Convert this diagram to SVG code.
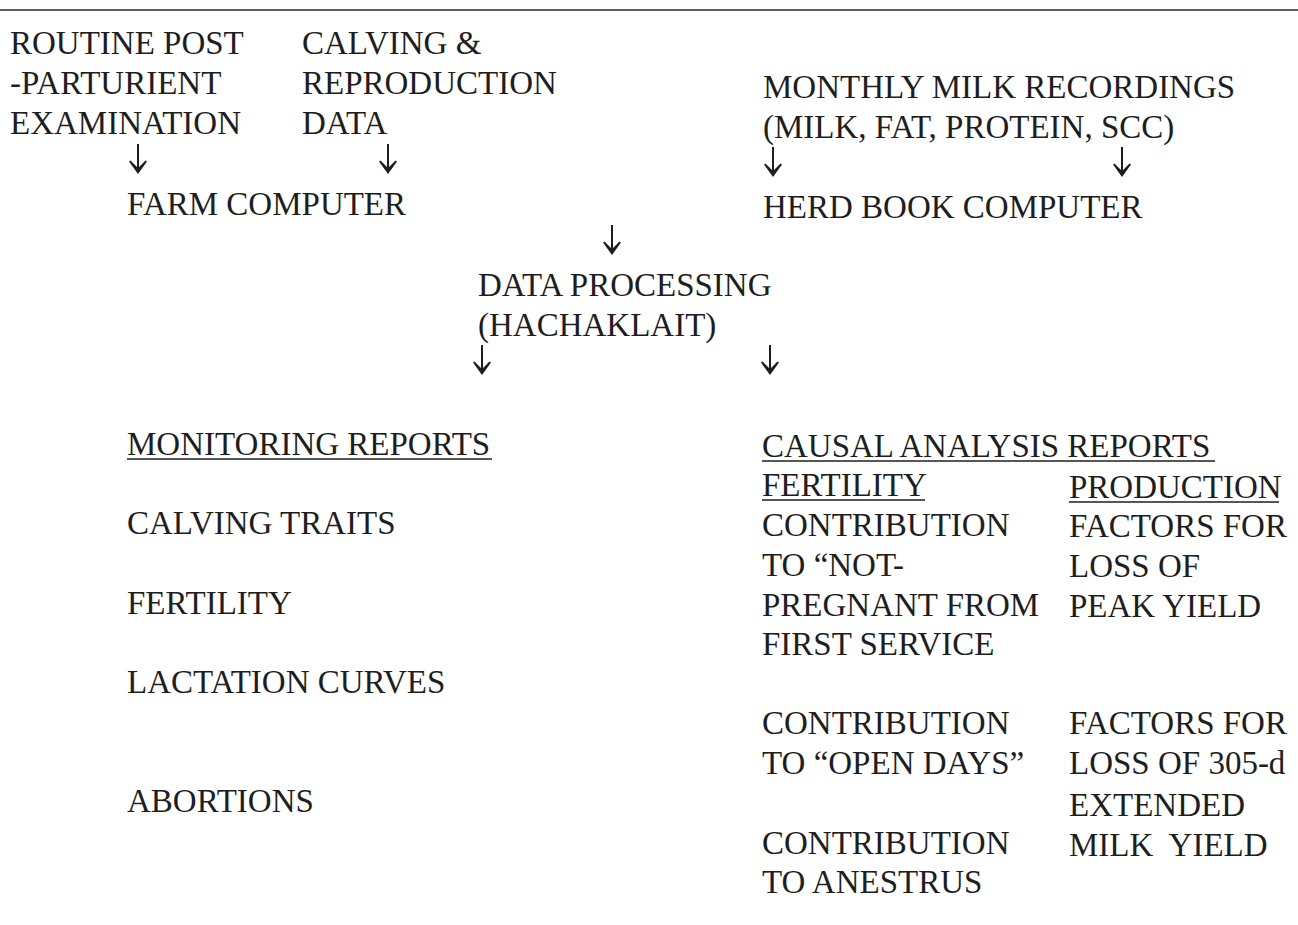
<svg xmlns="http://www.w3.org/2000/svg" width="1298" height="925" viewBox="0 0 1298 925">
<style>
text{font-family:"Liberation Serif","Times New Roman",serif;font-size:33px;fill:#1e1e1e}
.ul{stroke:#1e1e1e;stroke-width:1.6}
.stem{stroke:#1e1e1e;stroke-width:2;fill:none}
.head{fill:#1e1e1e;stroke:none}
</style>
<defs>
<g id="arr">
<line class="stem" x1="0" y1="-15" x2="0" y2="13"/>
<path class="head" d="M0,15 L-9,2.5 L-7.5,1.5 L0,9 L7.5,1.5 L9,2.5 Z"/>
</g>
</defs>
<rect width="1298" height="925" fill="#ffffff"/>
<line x1="0" y1="10" x2="1298" y2="10" stroke="#2a2a2a" stroke-width="1.6"/>

<g id="routine-exam">
<text x="10" y="54">ROUTINE POST</text>
<text x="10" y="94">-PARTURIENT</text>
<text x="10" y="134">EXAMINATION</text>
</g>
<g id="calving-data">
<text x="302" y="54">CALVING &amp;</text>
<text x="302" y="94">REPRODUCTION</text>
<text x="302" y="134">DATA</text>
</g>
<g id="milk-recordings">
<text x="763" y="98">MONTHLY MILK RECORDINGS</text>
<text x="763" y="138">(MILK, FAT, PROTEIN, SCC)</text>
</g>
<g id="farm-computer">
<text x="127" y="215">FARM COMPUTER</text>
</g>
<g id="herd-book-computer">
<text x="763" y="218">HERD BOOK COMPUTER</text>
</g>
<g id="data-processing">
<text x="478" y="296">DATA PROCESSING</text>
<text x="478" y="336">(HACHAKLAIT)</text>
</g>
<g id="monitoring-reports">
<text x="127" y="455">MONITORING REPORTS</text>
<line class="ul" x1="127" y1="459" x2="492" y2="459"/>
<text x="127" y="534">CALVING TRAITS</text>
<text x="127" y="614">FERTILITY</text>
<text x="127" y="693">LACTATION CURVES</text>
<text x="127" y="812">ABORTIONS</text>
</g>
<g id="causal-analysis-reports">
<text x="762" y="457">CAUSAL ANALYSIS REPORTS</text>
<line class="ul" x1="762" y1="461" x2="1215" y2="461"/>
</g>
<g id="fertility-column">
<text x="762" y="496">FERTILITY</text>
<line class="ul" x1="762" y1="500" x2="925" y2="500"/>
<text x="762" y="536">CONTRIBUTION</text>
<text x="762" y="576">TO “NOT-</text>
<text x="762" y="616">PREGNANT FROM</text>
<text x="762" y="655">FIRST SERVICE</text>
<text x="762" y="734">CONTRIBUTION</text>
<text x="762" y="774">TO “OPEN DAYS”</text>
<text x="762" y="854">CONTRIBUTION</text>
<text x="762" y="893">TO ANESTRUS</text>
</g>
<g id="production-column">
<text x="1069" y="498">PRODUCTION</text>
<line class="ul" x1="1069" y1="502" x2="1279" y2="502"/>
<text x="1069" y="537">FACTORS FOR</text>
<text x="1069" y="577">LOSS OF</text>
<text x="1069" y="617">PEAK YIELD</text>
<text x="1069" y="734">FACTORS FOR</text>
<text x="1069" y="774">LOSS OF 305-d</text>
<text x="1069" y="816">EXTENDED</text>
<text x="1069" y="856" xml:space="preserve">MILK  YIELD</text>
</g>

<g id="connectors">
<use href="#arr" x="138" y="159"/>
<use href="#arr" x="388" y="159"/>
<use href="#arr" x="773" y="162"/>
<use href="#arr" x="1122" y="162"/>
<use href="#arr" x="612" y="240"/>
<use href="#arr" x="482" y="360"/>
<use href="#arr" x="770" y="360"/>
</g>
</svg>
